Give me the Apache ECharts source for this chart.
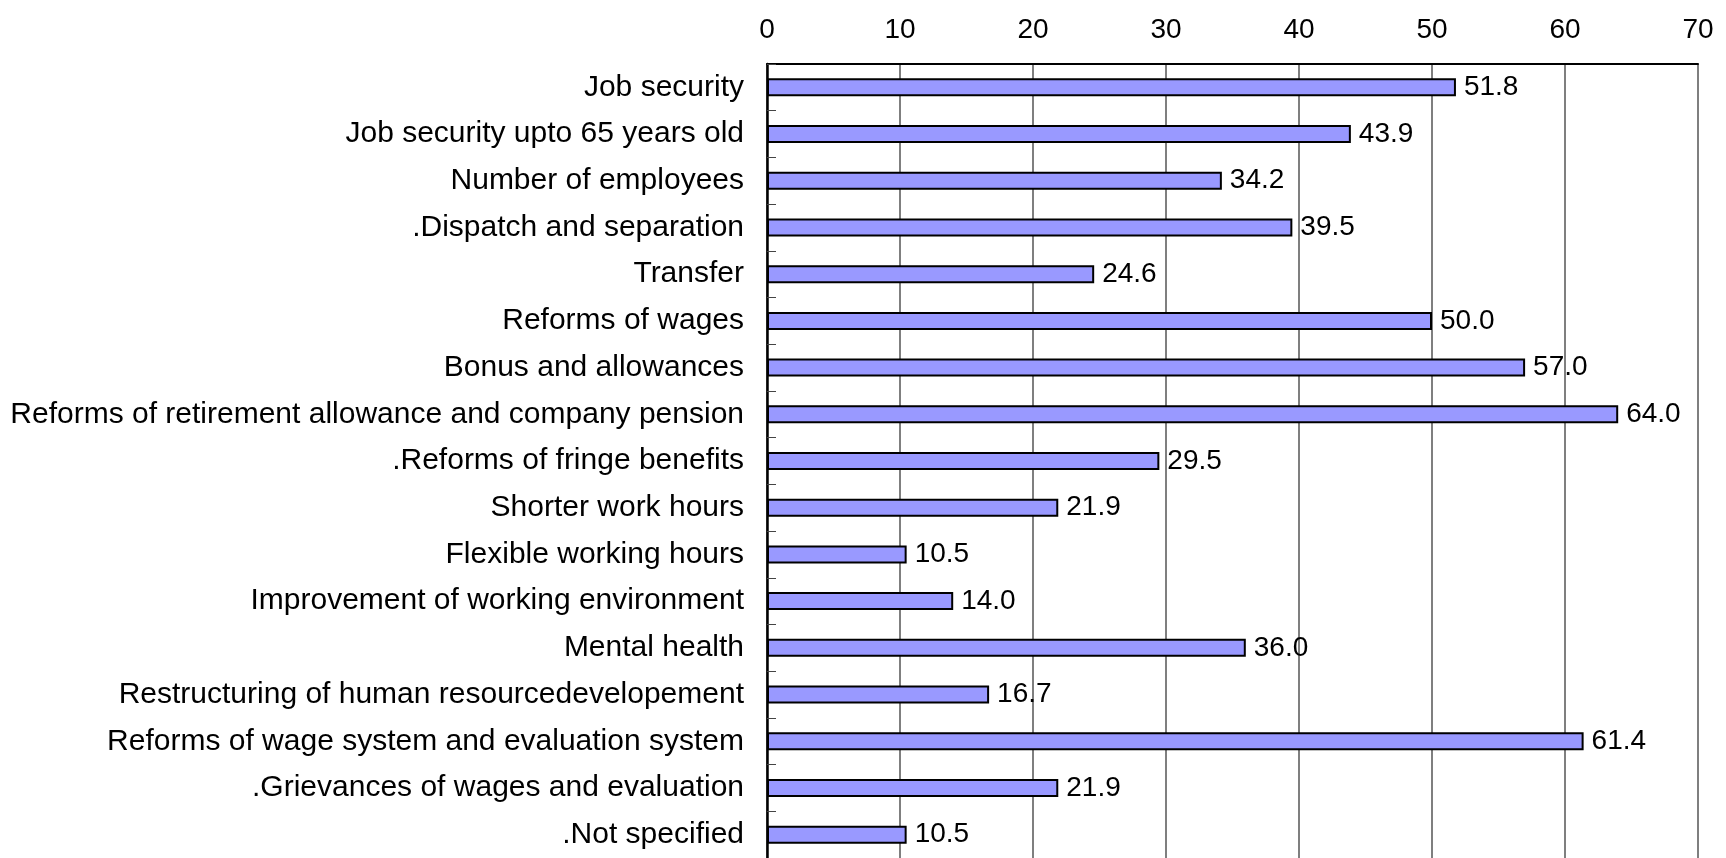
<!DOCTYPE html>
<html>
<head>
<meta charset="utf-8">
<script src="https://cdn.jsdelivr.net/npm/echarts@6/dist/echarts.min.js"></script>
<style>
  html, body { margin: 0; padding: 0; background: #ffffff; }
  #chart { width: 1726px; height: 858px; }
</style>
</head>
<body>
<div id="chart"></div>
<script>
// Survey items, listed top to bottom
const categories = [
  'Job security',
  'Job security upto 65 years old',
  'Number of employees',
  '.Dispatch and separation',
  'Transfer',
  'Reforms of wages',
  'Bonus and allowances',
  'Reforms of retirement allowance and company pension',
  '.Reforms of fringe benefits',
  'Shorter work hours',
  'Flexible working hours',
  'Improvement of working environment',
  'Mental health',
  'Restructuring of human resourcedevelopement',
  'Reforms of wage system and evaluation system',
  '.Grievances of wages and evaluation',
  '.Not specified'
];

// Percentage for each item
const values = [51.8, 43.9, 34.2, 39.5, 24.6, 50.0, 57.0, 64.0, 29.5, 21.9, 10.5, 14.0, 36.0, 16.7, 61.4, 21.9, 10.5];

// Value axis range
const axisMin = 0;
const axisMax = 70;
const axisStep = 10;

const FONT = "'Liberation Sans', Arial, sans-serif";

const chart = echarts.init(document.getElementById('chart'), null, { renderer: 'canvas' });

chart.setOption({
  animation: false,
  backgroundColor: '#ffffff',
  grid: {
    left: 767,
    right: 28,
    top: 64,
    bottom: -2,
    containLabel: false
  },
  xAxis: {
    type: 'value',
    position: 'top',
    min: axisMin,
    max: axisMax,
    interval: axisStep,
    axisLine: { show: true, lineStyle: { color: '#000000', width: 2 } },
    axisTick: { show: false },
    axisLabel: {
      margin: 20,
      fontFamily: FONT,
      fontSize: 28,
      color: '#000000'
    },
    splitLine: { show: true, lineStyle: { color: '#555555', width: 1.5 } }
  },
  yAxis: {
    type: 'category',
    data: categories,
    inverse: true,
    axisLine: { show: true, lineStyle: { color: '#000000', width: 2.5 } },
    axisTick: {
      show: true,
      inside: true,
      length: 9,
      lineStyle: { color: '#444444', width: 1 }
    },
    axisLabel: {
      margin: 23,
      fontFamily: FONT,
      fontSize: 30,
      color: '#000000'
    },
    splitLine: { show: false }
  },
  series: [{
    type: 'bar',
    data: values,
    barWidth: 18,
    itemStyle: {
      color: '#9999ff',
      borderColor: '#000000',
      borderWidth: 2
    },
    label: {
      show: true,
      position: 'right',
      distance: 8,
      fontFamily: FONT,
      fontSize: 28,
      color: '#000000',
      formatter: p => p.value.toFixed(1)
    }
  }]
});
</script>
</body>
</html>
